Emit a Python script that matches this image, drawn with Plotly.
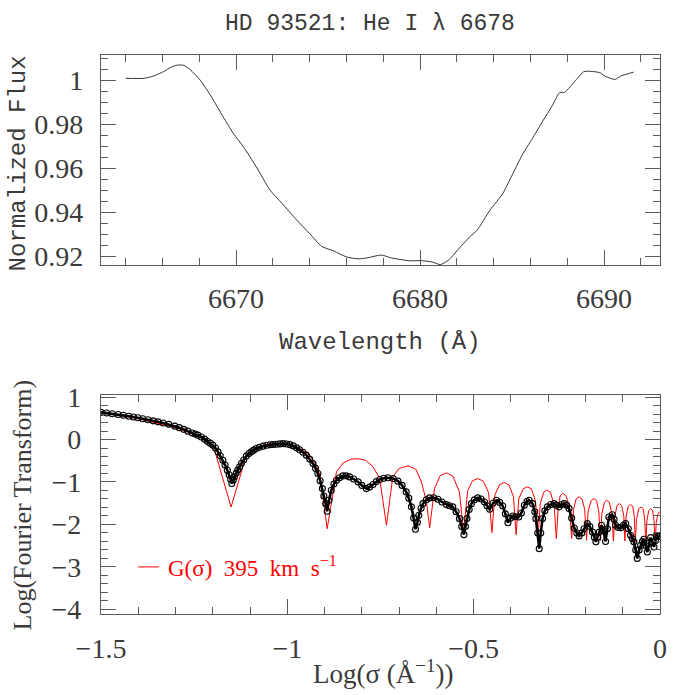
import plotly.graph_objects as go
from plotly.subplots import make_subplots

# --- top panel: He I 6678 line profile ---
wavelength = [6664.0, 6665.0, 6665.5, 6666.05, 6666.5, 6666.8, 6667.15, 6667.5, 6668.05, 6668.6,
              6669.3, 6669.85, 6670.4, 6671.1, 6671.85, 6672.5, 6673.3, 6674.0, 6674.65, 6675.3,
              6676.0, 6676.65, 6677.1, 6677.9, 6678.45, 6679.45, 6680.0, 6680.65, 6681.1, 6681.55,
              6682.0, 6682.7, 6683.1, 6683.8, 6684.5, 6685.05, 6685.6, 6686.0, 6686.7, 6687.15,
              6687.6, 6687.85, 6688.5, 6688.9, 6689.25, 6689.8, 6690.0, 6690.6, 6690.9, 6691.6]
flux = [1.0008, 1.0008, 1.0018, 1.0038, 1.006, 1.0068, 1.0067, 1.0048, 1.0, 0.9932,
        0.9833, 0.9758, 0.9697, 0.9606, 0.95, 0.944, 0.9364, 0.9303, 0.9245, 0.9224,
        0.9197, 0.9188, 0.9192, 0.9205, 0.9192, 0.9179, 0.918, 0.9174, 0.9162, 0.9182,
        0.9224, 0.9288, 0.9318, 0.9409, 0.9485, 0.9576, 0.9667, 0.972, 0.9818, 0.9879,
        0.9944, 0.9944, 1.0003, 1.0038, 1.004, 1.0033, 1.002, 1.0003, 1.0018, 1.0036]

# --- bottom panel: observed Fourier transform (circles) ---
ft_log_sigma = [-1.5, -1.485, -1.47, -1.454, -1.44, -1.425, -1.413, -1.401, -1.388, -1.374,
                -1.36, -1.347, -1.333, -1.318, -1.302, -1.29, -1.278, -1.267, -1.255, -1.247,
                -1.24, -1.231, -1.222, -1.215, -1.207, -1.2, -1.193, -1.186, -1.18, -1.173,
                -1.167, -1.161, -1.156, -1.152, -1.149, -1.145, -1.142, -1.137, -1.133, -1.128,
                -1.123, -1.117, -1.11, -1.103, -1.097, -1.09, -1.083, -1.075, -1.065, -1.055,
                -1.046, -1.038, -1.029, -1.02, -1.011, -1.002, -0.993, -0.984, -0.975, -0.967,
                -0.958, -0.949, -0.94, -0.931, -0.924, -0.918, -0.912, -0.906, -0.902, -0.897,
                -0.893, -0.888, -0.882, -0.875, -0.868, -0.86, -0.851, -0.842, -0.833, -0.822,
                -0.81, -0.8, -0.788, -0.779, -0.77, -0.761, -0.752, -0.741, -0.73, -0.716,
                -0.703, -0.692, -0.681, -0.674, -0.667, -0.661, -0.656, -0.651, -0.647, -0.641,
                -0.636, -0.627, -0.618, -0.607, -0.596, -0.585, -0.573, -0.565, -0.556, -0.547,
                -0.538, -0.532, -0.526, -0.522, -0.518, -0.512, -0.506, -0.498, -0.489, -0.48,
                -0.471, -0.464, -0.457, -0.448, -0.439, -0.43, -0.422, -0.415, -0.408, -0.401,
                -0.395, -0.387, -0.379, -0.372, -0.364, -0.357, -0.351, -0.342, -0.336, -0.333,
                -0.328, -0.324, -0.32, -0.315, -0.309, -0.302, -0.293, -0.284, -0.278, -0.271,
                -0.264, -0.257, -0.25, -0.244, -0.237, -0.23, -0.223, -0.217, -0.21, -0.204,
                -0.195, -0.188, -0.181, -0.176, -0.172, -0.167, -0.163, -0.157, -0.152, -0.146,
                -0.141, -0.137, -0.128, -0.123, -0.119, -0.112, -0.105, -0.098, -0.092, -0.085,
                -0.079, -0.074, -0.07, -0.065, -0.061, -0.056, -0.052, -0.047, -0.043, -0.038,
                -0.034, -0.029, -0.025, -0.02, -0.016, -0.012, -0.009, -0.004, 0.0]
ft_log_amp = [0.64, 0.625, 0.607, 0.59, 0.572, 0.55, 0.53, 0.512, 0.49, 0.465,
              0.44, 0.417, 0.39, 0.358, 0.316, 0.28, 0.24, 0.198, 0.155, 0.13,
              0.104, 0.06, 0.009, -0.04, -0.085, -0.132, -0.2, -0.29, -0.38, -0.486,
              -0.6, -0.722, -0.83, -0.934, -1.037, -0.95, -0.88, -0.79, -0.72, -0.64,
              -0.56, -0.48, -0.39, -0.33, -0.29, -0.25, -0.212, -0.18, -0.155, -0.135,
              -0.123, -0.117, -0.11, -0.102, -0.095, -0.105, -0.12, -0.15, -0.196, -0.24,
              -0.3, -0.368, -0.46, -0.566, -0.68, -0.8, -0.97, -1.155, -1.33, -1.51,
              -1.69, -1.43, -1.194, -1.05, -0.958, -0.9, -0.856, -0.855, -0.88, -0.93,
              -0.998, -1.08, -1.155, -1.12, -1.06, -0.99, -0.94, -0.91, -0.9, -0.92,
              -0.98, -1.08, -1.233, -1.38, -1.587, -1.85, -2.113, -1.95, -1.783, -1.62,
              -1.509, -1.42, -1.375, -1.37, -1.406, -1.47, -1.532, -1.56, -1.587, -1.7,
              -1.863, -2.05, -2.24, -2.05, -1.86, -1.65, -1.51, -1.42, -1.375, -1.4,
              -1.47, -1.56, -1.643, -1.5, -1.43, -1.48, -1.564, -1.75, -1.957, -1.85,
              -1.8, -1.82, -1.823, -1.73, -1.547, -1.46, -1.43, -1.51, -1.7, -1.863,
              -2.2, -2.57, -2.2, -1.86, -1.68, -1.587, -1.53, -1.51, -1.55, -1.587,
              -1.53, -1.51, -1.55, -1.627, -1.85, -2.083, -2.2, -2.27, -2.2, -2.1,
              -1.98, -2.05, -2.18, -2.3, -2.41, -2.3, -2.18, -2.02, -2.14, -2.4,
              -2.1, -1.823, -1.77, -1.88, -2.02, -2.07, -2.08, -2.02, -1.98, -2.1,
              -2.255, -2.33, -2.41, -2.6, -2.8, -2.6, -2.49, -2.4, -2.35, -2.5,
              -2.65, -2.45, -2.31, -2.42, -2.53, -2.38, -2.26, -2.28, -2.26]

# --- bottom panel: rotational model G(sigma), 395 km/s ---
g_log_sigma = [-1.5, -1.45, -1.4, -1.35, -1.3, -1.26, -1.23, -1.21, -1.195, -1.151,
               -1.11, -1.09, -1.06, -1.03, -1.0, -0.97, -0.945, -0.925, -0.912, -0.893,
               -0.868, -0.85, -0.83, -0.81, -0.79, -0.77, -0.752, -0.734,
               -0.717, -0.7, -0.676, -0.655, -0.64, -0.627, -0.618,
               -0.605, -0.59, -0.573, -0.556, -0.538, -0.527,
               -0.516, -0.503, -0.489, -0.474, -0.46, -0.451,
               -0.443, -0.43, -0.418, -0.405, -0.393, -0.386,
               -0.379, -0.367, -0.356, -0.345, -0.334, -0.327,
               -0.321, -0.312, -0.304, -0.294, -0.284, -0.278,
               -0.273, -0.268, -0.261, -0.252, -0.243, -0.237,
               -0.232, -0.225, -0.217, -0.209, -0.202, -0.197,
               -0.193, -0.185, -0.177, -0.17, -0.164, -0.16,
               -0.156, -0.149, -0.143, -0.136, -0.129, -0.125,
               -0.121, -0.115, -0.109, -0.103, -0.097, -0.094,
               -0.091, -0.085, -0.079, -0.073, -0.069, -0.066,
               -0.063, -0.057, -0.051, -0.045, -0.041, -0.038,
               -0.035, -0.03, -0.025, -0.02, -0.016, -0.013,
               -0.01, -0.005, 0.0]
g_log_amp = [0.63, 0.57, 0.49, 0.39, 0.28, 0.15, 0.03, -0.1, -0.25, -1.59,
             -0.37, -0.22, -0.12, -0.09, -0.11, -0.19, -0.33, -0.55, -0.85, -2.1,
             -0.76, -0.55, -0.465, -0.45, -0.49, -0.64, -0.92, -2.02,
             -0.88, -0.68, -0.62, -0.7, -1.0, -1.45, -2.08,
             -1.155, -0.85, -0.785, -0.86, -1.233, -2.2,
             -1.2, -0.97, -0.92, -0.98, -1.25, -2.19,
             -1.3, -1.06, -1.01, -1.07, -1.35, -2.24,
             -1.4, -1.16, -1.115, -1.16, -1.45, -2.25,
             -1.5, -1.24, -1.19, -1.24, -1.55, -2.33,
             -1.6, -1.33, -1.27, -1.32, -1.6, -2.33,
             -1.65, -1.4, -1.35, -1.4, -1.65, -2.37,
             -1.7, -1.44, -1.39, -1.44, -1.7, -2.38,
             -1.75, -1.48, -1.43, -1.48, -1.75, -2.39,
             -1.8, -1.55, -1.51, -1.55, -1.8, -2.39,
             -1.82, -1.57, -1.53, -1.57, -1.82, -2.41,
             -1.88, -1.63, -1.59, -1.63, -1.88, -2.45,
             -1.9, -1.67, -1.63, -1.67, -1.9, -2.46,
             -1.95, -1.74, -1.7]

flux_ticks = [0.92, 0.94, 0.96, 0.98, 1.0]
flux_labels = ["0.92", "0.94", "0.96", "0.98", "1"]
wl_ticks = [6670, 6680, 6690]
sigma_ticks = [-1.5, -1.0, -0.5, 0.0]
sigma_labels = ["\u22121.5", "\u22121", "\u22120.5", "0"]
amp_ticks = [-4, -3, -2, -1, 0, 1]
amp_labels = ["\u22124", "\u22123", "\u22122", "\u22121", "0", "1"]

TXT = "#3a3a3a"
AX = "#5a5a5a"
SERIF = "Liberation Serif"
MONO = "Liberation Mono"

fig = make_subplots(rows=2, cols=1)

fig.add_trace(go.Scatter(x=wavelength, y=flux, mode="lines", line=dict(color="#333333", width=1, shape="spline", smoothing=0.6),
                         showlegend=False), row=1, col=1)
fig.add_trace(go.Scatter(x=g_log_sigma, y=g_log_amp, mode="lines", line=dict(color="red", width=1),
                         showlegend=False), row=2, col=1)
fig.add_trace(go.Scatter(x=ft_log_sigma, y=ft_log_amp, mode="lines+markers",
                         line=dict(color="black", width=2.6),
                         marker=dict(symbol="circle-open", size=6, color="black", line=dict(width=1.1, color="black")),
                         showlegend=False), row=2, col=1)

common = dict(ticks="inside", mirror="allticks", showline=True, linecolor=AX, linewidth=1.3,
              tickcolor=AX, tickwidth=1.2, ticklen=15, showgrid=False, zeroline=False, automargin=False,
              tickfont=dict(family=SERIF, size=28, color=TXT))

fig.update_xaxes(common)
fig.update_yaxes(common)

fig.update_xaxes(domain=[0.1453, 0.9496], range=[6662.66, 6693.04], tickmode="array", tickvals=wl_ticks,
                 minor=dict(dtick=2, tick0=6670, ticklen=7, ticks="inside", tickcolor=AX),
                 ticklabelstandoff=8, row=1, col=1)
fig.update_yaxes(domain=[0.6187, 0.9209], range=[0.916, 1.0114], tickmode="array", tickvals=flux_ticks,
                 ticktext=flux_labels, minor=dict(dtick=0.005, tick0=0.92, ticklen=7, ticks="inside", tickcolor=AX),
                 ticklabelstandoff=11, row=1, col=1)
fig.update_xaxes(domain=[0.1453, 0.9496], range=[-1.5, 0.0], tickmode="array", tickvals=sigma_ticks,
                 ticktext=sigma_labels, minor=dict(dtick=0.1, tick0=0, ticklen=7, ticks="inside", tickcolor=AX),
                 ticklabelstandoff=9, row=2, col=1)
fig.update_yaxes(domain=[0.1165, 0.4317], range=[-4.11, 1.05], tickmode="array", tickvals=amp_ticks,
                 ticktext=amp_labels, minor=dict(dtick=0.2, tick0=0, ticklen=7, ticks="inside", tickcolor=AX),
                 ticklabelstandoff=13, row=2, col=1)

# legend sample for the model curve
fig.add_shape(type="line", xref="x2", yref="y2", x0=-1.40, x1=-1.345, y0=-3.0, y1=-3.0,
              line=dict(color="red", width=1))

ann = dict(xref="paper", yref="paper", showarrow=False, xanchor="center", yanchor="middle")
fig.update_layout(
    width=695, height=695,
    margin=dict(l=0, r=0, t=0, b=0),
    paper_bgcolor="white", plot_bgcolor="white",
    showlegend=False,
    annotations=[
        dict(ann, text="HD 93521: He I \u03bb 6678", x=0.532, y=0.966,
             font=dict(family=MONO, size=23, color=TXT)),
        dict(ann, text="Normalized Flux", x=0.026, y=0.765, textangle=-90,
             font=dict(family=MONO, size=24, color=TXT)),
        dict(ann, text="Wavelength (\u00c5)", x=0.547, y=0.507,
             font=dict(family=MONO, size=24, color=TXT)),
        dict(ann, text="Log(Fourier Transform)", x=0.032, y=0.273, textangle=-90,
             font=dict(family=SERIF, size=26, color=TXT)),
        dict(ann, text="Log(\u03c3 (\u00c5<sup>\u22121</sup>))", x=0.551, y=0.033,
             font=dict(family=SERIF, size=27, color=TXT)),
        dict(text="G(\u03c3)\u2002395\u2002km\u2002s<sup>\u22121</sup>", x=-1.326, y=-3.0, xref="x2", yref="y2",
             xanchor="left", yanchor="middle", showarrow=False, font=dict(family=SERIF, size=23, color="red")),
    ],
)

fig.write_html("out.html", config={"displayModeBar": False},
               post_script="document.body.style.margin='0';")
